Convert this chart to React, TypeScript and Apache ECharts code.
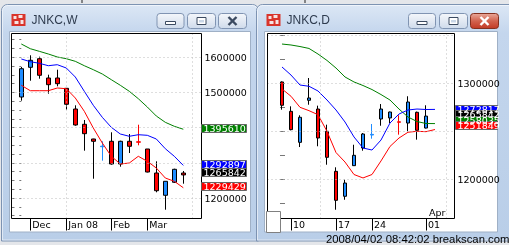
import React, { useEffect, useRef } from 'react';
import * as echarts from 'echarts';

// ---------- Weekly chart (JNKC,W) ----------
const weeklyDateLabels = ['Dec', 'Jan 08', 'Feb', 'Mar'];
const weeklyDateTickBars = [1, 5, 10, 14];
const weeklyOpen = [1487200, 1571600, 1596000, 1541200, 1541200, 1511900, 1453100, 1409700, 1367900, 1346000, 1361400, 1296900, 1361400, 1359900, 1339500, 1271300, 1208000, 1244900, 1271300];
const weeklyClose = [1567600, 1591500, 1548900, 1522200, 1525000, 1466500, 1407700, 1383000, 1361400, 1347500, 1296900, 1361400, 1347200, 1358800, 1274100, 1221000, 1247700, 1281800, 1265842];
const weeklyLow = [1476700, 1533500, 1539200, 1496600, 1517600, 1451100, 1405700, 1334700, 1255100, 1306300, 1294900, 1289200, 1328100, 1350000, 1273000, 1216500, 1167000, 1242900, 1240900];
const weeklyHigh = [1572400, 1605700, 1601700, 1550600, 1564800, 1512800, 1463600, 1421900, 1368500, 1361400, 1386900, 1363100, 1382100, 1408500, 1339500, 1304500, 1247700, 1283500, 1277000];
const weeklyMaGreen = [1637800, 1624400, 1617000, 1609400, 1600900, 1596000, 1588600, 1576100, 1564800, 1552600, 1536400, 1520500, 1503400, 1482400, 1458800, 1433200, 1415300, 1404000, 1395610];
const weeklyMaBlue = [1595200, 1587500, 1583000, 1576100, 1579000, 1569600, 1544000, 1503400, 1463600, 1429500, 1401100, 1382100, 1375600, 1380100, 1378400, 1367900, 1340300, 1318800, 1292897];
const weeklyMaRed = [1520500, 1505100, 1505100, 1505100, 1512800, 1510800, 1484400, 1446600, 1399100, 1356500, 1318800, 1296900, 1299700, 1318800, 1304500, 1285500, 1257100, 1247700, 1229429];
const weeklyPriceLabels = [1600000, 1500000, 1200000];
const weeklyGridPrices = [1600000, 1500000, 1400000, 1300000, 1200000];
const weeklyGridBars = [5, 19];
const weeklyLastPrice = 1265842;

// ---------- Daily chart (JNKC,D) ----------
const dailyDateLabels = ['10', '17', '24', '01'];
const dailyDateTickBars = [1, 6, 10, 16];
const dailyMonthLabels = ['Apr'];
const dailyMonthBars = [16];
const dailyOpen = [1301400, 1270800, 1238500, 1282300, 1273200, 1250000, 1208300, 1182300, 1214200, 1232600, 1246100, 1262800, 1263900, 1259900, 1258600, 1269800, 1253400];
const dailyClose = [1277100, 1251700, 1264600, 1284700, 1243000, 1222900, 1178100, 1196100, 1225000, 1247200, 1246800, 1273200, 1270100, 1259400, 1280500, 1251000, 1265842];
const dailyLow = [1272500, 1251000, 1233600, 1277700, 1234400, 1215200, 1168300, 1178700, 1214000, 1229800, 1242300, 1255800, 1258600, 1246500, 1250000, 1241300, 1253000];
const dailyHigh = [1302000, 1276000, 1266700, 1305500, 1276700, 1256900, 1212500, 1199600, 1236000, 1248200, 1257600, 1278400, 1270500, 1266700, 1286500, 1270500, 1277100];
const dailyMaGreen = [1340900, 1339900, 1338300, 1336300, 1330500, 1323800, 1315900, 1306600, 1301400, 1297700, 1293500, 1288300, 1282600, 1273200, 1264900, 1260200, 1258100, 1258035];
const dailyMaBlue = [1317000, 1308600, 1298200, 1296900, 1292000, 1282600, 1272200, 1259700, 1244100, 1232600, 1230500, 1240900, 1258600, 1268000, 1272200, 1273200, 1272700, 1272817];
const dailyMaRed = [1294100, 1286500, 1275000, 1271500, 1267300, 1250000, 1227900, 1218000, 1205000, 1201400, 1205000, 1219100, 1234200, 1243000, 1249000, 1250000, 1249600, 1251849];
const dailyPriceLabels = [1300000, 1200000];
const dailyGridPrices = [1350000, 1300000, 1250000, 1200000];
const dailyGridBars = [4.3, 18.3];
const dailyLastPrice = 1265842;

const footerText = '2008/04/02 08:42:02 breakscan.com';

// ---------- styles / layout ----------
const UP = '#1e8cff';
const DOWN = '#ff0000';
const MA_GREEN = '#008000';
const MA_BLUE = '#0000ff';
const MA_RED = '#ff0000';
const AXIS_FONT = 'DejaVu Sans';
const AXIS_SIZE = 9.5;

const L = { x: 11.5, y: 33.5, w: 190, h: 185, xMin: -1.0889, xMax: 20.022, yMin: 1142045, yMax: 1667614, minor: 25000, doji: 2000 };
const R = { x: 267.5, y: 33.5, w: 187, h: 185, xMin: -1.6111, xMax: 19.1667, yMin: 1159167, yMax: 1351875, minor: 25000, doji: 800 };

function candleData(o: number[], c: number[], l: number[], h: number[], doji: number) {
  return o.map((ov, i) => {
    const item: any = { value: [i, ov, c[i], l[i], h[i]] };
    if (Math.abs(c[i] - ov) < doji) {
      const col = c[i] >= ov ? UP : DOWN;
      item.itemStyle = { borderColor: col, borderColor0: col };
    }
    return item;
  });
}

function minorTicks(min: number, max: number, step: number) {
  const out: number[] = [];
  for (let v = Math.ceil(min / step) * step; v <= max; v += step) out.push(v);
  return out;
}

function lineSeries(data: number[], color: string, xi: number, yi: number) {
  return {
    type: 'line', xAxisIndex: xi, yAxisIndex: yi, data: data.map((v, i) => [i, v]),
    showSymbol: false, symbol: 'none', lineStyle: { color, width: 1 }, z: 4, silent: true,
  };
}

function gridSeries(prices: number[], bars: number[], xi: number, yi: number) {
  return {
    type: 'line', xAxisIndex: xi, yAxisIndex: yi, data: [], z: 1, silent: true,
    markLine: {
      silent: true, symbol: ['none', 'none'], label: { show: false },
      lineStyle: { color: '#bdbdbd', type: [1, 3], width: 1 },
      data: [...prices.map((p) => ({ yAxis: p })), ...bars.map((b) => ({ xAxis: b }))],
    },
  };
}

function buildOption() {
  const axisText = { fontFamily: AXIS_FONT, fontSize: AXIS_SIZE, color: '#000' };
  const xBase = (g: any, gi: number, ticks: number[], names: string[]) => ({
    type: 'value', gridIndex: gi, min: g.xMin, max: g.xMax, position: 'bottom',
    axisLine: { show: false }, splitLine: { show: false },
    axisTick: { show: true, customValues: ticks, length: 12, lineStyle: { color: '#000', width: 1 } },
    axisLabel: {
      ...axisText, customValues: ticks, align: 'left', margin: 1, padding: [0, 0, 0, 2],
      formatter: (v: number) => names[ticks.indexOf(Math.round(v))] ?? '',
    },
  });
  const yRight = (g: any, gi: number, labels: number[]) => ({
    type: 'value', gridIndex: gi, position: 'right', min: g.yMin, max: g.yMax, scale: true,
    axisLine: { show: false }, splitLine: { show: false },
    axisTick: { show: true, inside: true, length: 2, customValues: minorTicks(g.yMin, g.yMax, g.minor), lineStyle: { color: '#777' } },
    axisLabel: { ...axisText, customValues: labels, margin: 3, formatter: (v: number) => String(Math.round(v)) },
  });
  const yLeft = (g: any, gi: number) => ({
    type: 'value', gridIndex: gi, position: 'left', min: g.yMin, max: g.yMax, scale: true,
    axisLine: { show: false }, splitLine: { show: false }, axisLabel: { show: false },
    axisTick: { show: true, inside: true, length: 3, customValues: minorTicks(g.yMin, g.yMax, g.minor), lineStyle: { color: '#777' } },
  });
  const candleStyle = { color: UP, color0: DOWN, borderColor: '#000', borderColor0: '#000', borderWidth: 1 };
  return {
    animation: false,
    textStyle: { fontFamily: AXIS_FONT },
    grid: [
      { left: L.x, top: L.y, width: L.w, height: L.h, outerBoundsMode: 'none', containLabel: false },
      { left: R.x, top: R.y, width: R.w, height: R.h, outerBoundsMode: 'none', containLabel: false },
    ],
    xAxis: [
      xBase(L, 0, weeklyDateTickBars, weeklyDateLabels),
      xBase(R, 1, dailyDateTickBars, dailyDateLabels),
      {
        type: 'value', gridIndex: 1, min: R.xMin, max: R.xMax, position: 'bottom',
        axisLine: { show: false }, splitLine: { show: false }, axisTick: { show: false },
        axisLabel: {
          ...axisText, inside: true, customValues: dailyMonthBars, align: 'left', margin: 1, padding: [0, 0, 0, 3],
          formatter: (v: number) => dailyMonthLabels[dailyMonthBars.indexOf(Math.round(v))] ?? '',
        },
      },
    ],
    yAxis: [yRight(L, 0, weeklyPriceLabels), yRight(R, 1, dailyPriceLabels), yLeft(L, 0), yLeft(R, 1)],
    series: [
      gridSeries(weeklyGridPrices, weeklyGridBars, 0, 0),
      gridSeries(dailyGridPrices, dailyGridBars, 1, 1),
      { type: 'candlestick', xAxisIndex: 0, yAxisIndex: 0, barWidth: 4, z: 3, silent: true, itemStyle: candleStyle, data: candleData(weeklyOpen, weeklyClose, weeklyLow, weeklyHigh, L.doji) },
      { type: 'candlestick', xAxisIndex: 1, yAxisIndex: 1, barWidth: 4, z: 3, silent: true, itemStyle: candleStyle, data: candleData(dailyOpen, dailyClose, dailyLow, dailyHigh, R.doji) },
      lineSeries(weeklyMaGreen, MA_GREEN, 0, 0),
      lineSeries(weeklyMaBlue, MA_BLUE, 0, 0),
      lineSeries(weeklyMaRed, MA_RED, 0, 0),
      lineSeries(dailyMaGreen, MA_GREEN, 1, 1),
      lineSeries(dailyMaBlue, MA_BLUE, 1, 1),
      lineSeries(dailyMaRed, MA_RED, 1, 1),
    ],
  };
}

// ---------- window chrome ----------
function frameFill() {
  return new echarts.graphic.LinearGradient(0, 0, 0, 1, [
    { offset: 0, color: '#dce7f5' },
    { offset: 0.12, color: '#c4d6ed' },
    { offset: 1, color: '#b9cee8' },
  ]);
}
function btnFill() {
  return new echarts.graphic.LinearGradient(0, 0, 0, 1, [
    { offset: 0, color: '#f4f7fb' }, { offset: 0.5, color: '#e2e9f3' }, { offset: 1, color: '#cfdbeb' },
  ]);
}
function redFill() {
  return new echarts.graphic.LinearGradient(0, 0, 0, 1, [
    { offset: 0, color: '#e9a99a' }, { offset: 0.5, color: '#d2634f' }, { offset: 1, color: '#c23a25' },
  ]);
}

function windowEls(x: number, w: number, title: string, clientW: number, btn: number[], active: boolean) {
  const els: any[] = [];
  els.push({ type: 'rect', shape: { x, y: 4.5, width: w, height: 236.5, r: [6, 6, 0, 0] }, style: { fill: frameFill(), stroke: '#7d93b2', lineWidth: 1 }, z: 0 });
  els.push({ type: 'rect', shape: { x: x + 1, y: 5.5, width: w - 2, height: 234.5, r: [5, 5, 0, 0] }, style: { fill: 'none', stroke: 'rgba(255,255,255,0.55)', lineWidth: 1 }, z: 0 });
  els.push({ type: 'rect', shape: { x: x + 8, y: 31.5, width: clientW, height: 200.5 }, style: { fill: '#fff', stroke: '#9fb0c6', lineWidth: 1 }, z: 0 });
  // icon
  const ix = x + 10, iy = 14;
  els.push({ type: 'rect', shape: { x: ix, y: iy, width: 14, height: 12 }, style: { fill: '#d9342b' }, z: 1 });
  [[2, 2, 3, 3], [7, 1, 4, 3], [3, 7, 4, 3], [9, 6, 3, 4]].forEach(([a, b, c, d]) =>
    els.push({ type: 'rect', shape: { x: ix + a, y: iy + b, width: c, height: d }, style: { fill: '#f6e3e3' }, z: 1 }));
  els.push({ type: 'text', x: x + 30, y: 20, style: { text: title, fill: '#2e3b4e', font: '12px "Liberation Sans"', align: 'left', verticalAlign: 'middle' }, z: 1 });
  // buttons
  const widths = [27, 28, 28];
  btn.forEach((bx, k) => {
    const isClose = k === 2;
    const fill = isClose && active ? redFill() : btnFill();
    const stroke = isClose && active ? '#85301f' : '#8094b2';
    els.push({ type: 'rect', shape: { x: bx, y: 13.5, width: widths[k], height: 15, r: 3 }, style: { fill, stroke, lineWidth: 1 }, z: 1 });
    const cx = bx + widths[k] / 2;
    const gl = isClose && active ? '#ffffff' : '#3b4a60';
    if (k === 0) {
      els.push({ type: 'rect', shape: { x: cx - 5, y: 21.5, width: 10, height: 3 }, style: { fill: '#fff', stroke: '#3b4a60', lineWidth: 1 }, z: 2 });
    } else if (k === 1) {
      els.push({ type: 'rect', shape: { x: cx - 4.5, y: 17.5, width: 9, height: 7 }, style: { fill: '#fff', stroke: '#3b4a60', lineWidth: 1 }, z: 2 });
      els.push({ type: 'rect', shape: { x: cx - 2.5, y: 20, width: 5, height: 2.5 }, style: { fill: '#c9d6e6' }, z: 2 });
    } else {
      els.push({ type: 'line', shape: { x1: cx - 4, y1: 17, x2: cx + 4, y2: 25 }, style: { stroke: gl, lineWidth: 2.4 }, z: 2 });
      els.push({ type: 'line', shape: { x1: cx + 4, y1: 17, x2: cx - 4, y2: 25 }, style: { stroke: gl, lineWidth: 2.4 }, z: 2 });
    }
  });
  return els;
}

function chromeEls() {
  const els: any[] = [];
  els.push({ type: 'rect', shape: { x: 0, y: 0, width: 509, height: 245 }, style: { fill: '#e4e6ea' }, z: -1 });
  els.push({ type: 'line', shape: { x1: 82, y1: 0, x2: 82, y2: 3 }, style: { stroke: '#222', lineWidth: 1 }, z: 0 });
  els.push({ type: 'line', shape: { x1: 305, y1: 0, x2: 305, y2: 3 }, style: { stroke: '#222', lineWidth: 1 }, z: 0 });
  els.push(...windowEls(1.5, 257, 'JNKC,W', 241, [157, 187.5, 218.5], false));
  els.push(...windowEls(256.5, 262, 'JNKC,D', 233, [408.5, 439.5, 470.5], true));
  return els;
}

function frameEls() {
  return [
    { type: 'rect', shape: { x: L.x, y: L.y, width: L.w, height: L.h }, style: { fill: 'none', stroke: '#000', lineWidth: 1 }, z: 10 },
    { type: 'rect', shape: { x: R.x, y: R.y, width: R.w, height: R.h }, style: { fill: 'none', stroke: '#000', lineWidth: 1 }, z: 10 },
    { type: 'rect', shape: { x: 266.5, y: 211.5, width: 14, height: 21 }, style: { fill: '#fff', stroke: '#808080', lineWidth: 1 }, z: 11 },
    { type: 'text', x: 326, y: 239, style: { text: footerText, fill: '#000', font: '11.3px "Liberation Sans"', align: 'left', verticalAlign: 'middle' }, z: 30 },
  ];
}

function priceBox(chart: any, axis: number, value: number, dy: number, x: number, w: number, fill: string) {
  const py = chart.convertToPixel({ xAxisIndex: axis, yAxisIndex: axis }, [0, value])[1] + dy;
  return [
    { type: 'rect', shape: { x: x + 0.5, y: Math.round(py - 4) + 0.5, width: w, height: 8 }, style: { fill, stroke: '#666', lineWidth: 1 }, z: 20 },
    { type: 'text', x: x + 2.5, y: Math.round(py) + 0.5, style: { text: String(value), fill: '#fff', font: `${AXIS_SIZE}px "${AXIS_FONT}"`, align: 'left', verticalAlign: 'middle' }, z: 21 },
  ];
}

export default function App() {
  const ref = useRef<HTMLDivElement>(null);
  useEffect(() => {
    const chart = echarts.init(ref.current as HTMLDivElement, null, { renderer: 'svg' });
    chart.setOption(buildOption() as any);
    const lastW = weeklyMaGreen.length - 1;
    const lastD = dailyMaGreen.length - 1;
    const boxes = [
      ...priceBox(chart, 0, weeklyMaGreen[lastW], -1, 201, 45, MA_GREEN),
      ...priceBox(chart, 0, weeklyMaBlue[lastW], -1.5, 201, 45, MA_BLUE),
      ...priceBox(chart, 0, weeklyLastPrice, -3, 201, 45, '#000'),
      ...priceBox(chart, 0, weeklyMaRed[lastW], -1.5, 201, 45, MA_RED),
      ...priceBox(chart, 1, dailyMaBlue[lastD], 0, 455, 42, MA_BLUE),
      ...priceBox(chart, 1, dailyLastPrice, -2, 455, 42, '#000'),
      ...priceBox(chart, 1, dailyMaGreen[lastD], -4, 455, 42, MA_GREEN),
      ...priceBox(chart, 1, dailyMaRed[lastD], -5, 455, 42, MA_RED),
    ];
    chart.setOption({ graphic: { elements: [...chromeEls(), ...frameEls(), ...boxes] } } as any);
    return () => chart.dispose();
  }, []);
  return <div ref={ref} style={{ position: 'fixed', left: 0, top: 0, width: 509, height: 245 }} />;
}
